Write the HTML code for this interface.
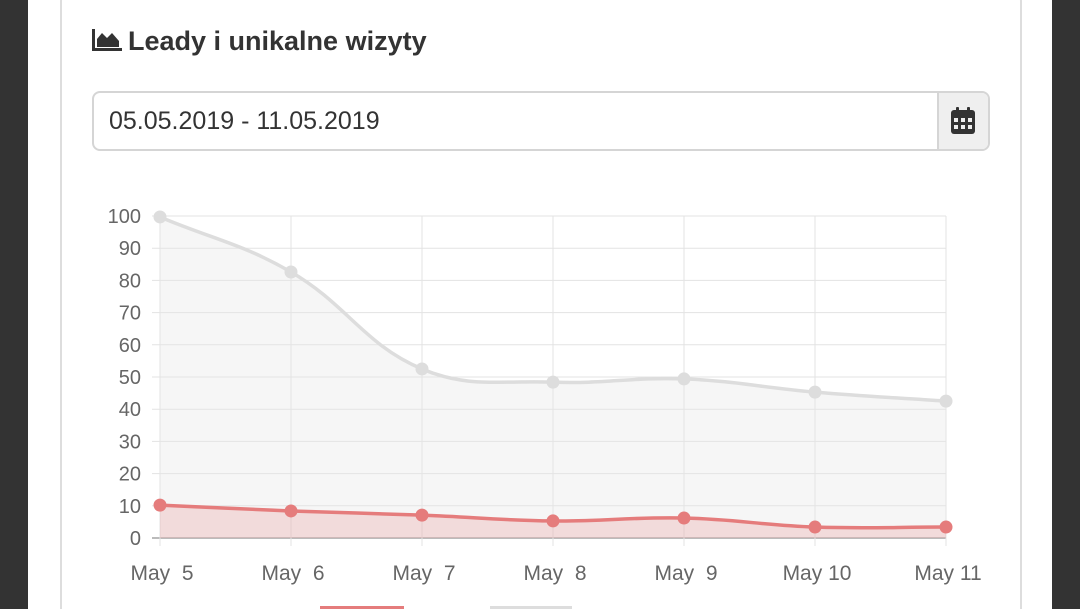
<!DOCTYPE html>
<html><head><meta charset="utf-8"><style>
html,body{margin:0;padding:0;width:1080px;height:609px;overflow:hidden}
body{background:#333;position:relative;font-family:"Liberation Sans",sans-serif}
.page{position:absolute;left:28px;top:0;width:1024px;height:609px;background:#fff}
.card{position:absolute;left:60px;top:-5px;width:958px;height:620px;border:2px solid #ddd;border-radius:6px;background:#fff}
.title{position:absolute;left:92px;top:26px;font-size:27px;font-weight:bold;color:#333;letter-spacing:0px}
.input{position:absolute;left:92px;top:91px;width:894px;height:56px;border:2px solid #d5d5d5;border-radius:8px;overflow:hidden}
.input .txt{position:absolute;left:15px;top:14px;font-size:25px;color:#333}
.input .add{position:absolute;right:0;top:0;width:49px;height:56px;background:#efefef;border-left:2px solid #d5d5d5}
</style></head><body>
<div class="page"></div>
<div class="card"></div>
<div class="title"><svg width="30" height="22" viewBox="0 0 30 22" style="vertical-align:-1px;margin-right:6px"><path d="M0 0h3v19h27v3H0z" fill="#333"/><path d="M5 18V10l5-6 5 5 5-5 7 8v6z" fill="#333"/></svg>Leady i unikalne wizyty</div>
<div class="input"><div class="txt">05.05.2019 - 11.05.2019</div><div class="add"><svg width="24" height="28" viewBox="0 0 24 28" style="position:absolute;left:12px;top:14px"><rect x="5" y="0" width="3" height="6" rx="1" fill="#333"/><rect x="16" y="0" width="3" height="6" rx="1" fill="#333"/><rect x="0" y="3" width="24" height="24" rx="3" fill="#333"/><g fill="#efefef"><rect x="3" y="11" width="4" height="4"/><rect x="10" y="11" width="4" height="4"/><rect x="17" y="11" width="4" height="4"/><rect x="3" y="18" width="4" height="4"/><rect x="10" y="18" width="4" height="4"/><rect x="17" y="18" width="4" height="4"/></g></svg></div></div>
<svg id="ch" width="1080" height="609" style="position:absolute;left:0;top:0"></svg>
<div style="position:absolute;left:320px;top:606px;width:84px;height:10px;background:#e57c7c"></div>
<div style="position:absolute;left:490px;top:606px;width:82px;height:10px;background:#ddd"></div>
<script>
var xs=[160,291,422,553,684,815,946];
function Y(v){return 538-v*3.22;}
var g=[99.7,82.6,52.5,48.4,49.4,45.3,42.5], r=[10.2,8.4,7.1,5.3,6.2,3.4,3.4];
var s='';
for(var i=0;i<=10;i++){var y=Y(i*10);s+='<line x1="152" x2="946" y1="'+y+'" y2="'+y+'" stroke="'+(i==0?'#bbb':'#e3e3e3')+'" stroke-width="'+(i==0?2:1)+'"/>';s+='<text x="141" y="'+(y+7)+'" text-anchor="end" font-size="20" fill="#666">'+(i*10)+'</text>';}
var lab=['May  5','May  6','May  7','May  8','May  9','May 10','May 11'];
xs.forEach(function(x,i){s+='<line x1="'+x+'" x2="'+x+'" y1="216" y2="546" stroke="#e3e3e3"/>';s+='<text x="'+(x+2)+'" y="580" text-anchor="middle" font-size="21" fill="#666" xml:space="preserve">'+lab[i]+'</text>';});
function path(v){var p=v.map(function(a,i){return [xs[i],Y(a)];});var d='M'+p[0][0]+' '+p[0][1];var cps=[];
for(var i=0;i<p.length;i++){var pr=p[Math.max(0,i-1)],c=p[i],n=p[Math.min(p.length-1,i+1)];var d01=Math.hypot(c[0]-pr[0],c[1]-pr[1]),d12=Math.hypot(n[0]-c[0],n[1]-c[1]);var t=0.4,fa=t*d01/(d01+d12||1),fb=t*d12/(d01+d12||1);cps.push([[c[0]-fa*(n[0]-pr[0]),c[1]-fa*(n[1]-pr[1])],[c[0]+fb*(n[0]-pr[0]),c[1]+fb*(n[1]-pr[1])]]);}
for(var i=1;i<p.length;i++){var a=cps[i-1][1],b=cps[i][0];d+=' C'+a[0]+' '+a[1]+' '+b[0]+' '+b[1]+' '+p[i][0]+' '+p[i][1];}return {d:d,p:p};}
var G=path(g),R=path(r);
s+='<path d="'+G.d+' L946 538 L160 538Z" fill="rgba(230,230,230,0.35)"/>';
s+='<path d="'+R.d+' L946 538 L160 538Z" fill="rgba(229,124,124,0.22)"/>';
s+='<path d="'+G.d+'" fill="none" stroke="#ddd" stroke-width="3.5"/>';
s+='<path d="'+R.d+'" fill="none" stroke="#e57c7c" stroke-width="3.5"/>';
G.p.forEach(function(q){s+='<circle cx="'+q[0]+'" cy="'+q[1]+'" r="6.5" fill="#ddd"/>';});
R.p.forEach(function(q){s+='<circle cx="'+q[0]+'" cy="'+q[1]+'" r="6.5" fill="#e57c7c"/>';});
document.getElementById('ch').innerHTML=s;
</script>
</body></html>
